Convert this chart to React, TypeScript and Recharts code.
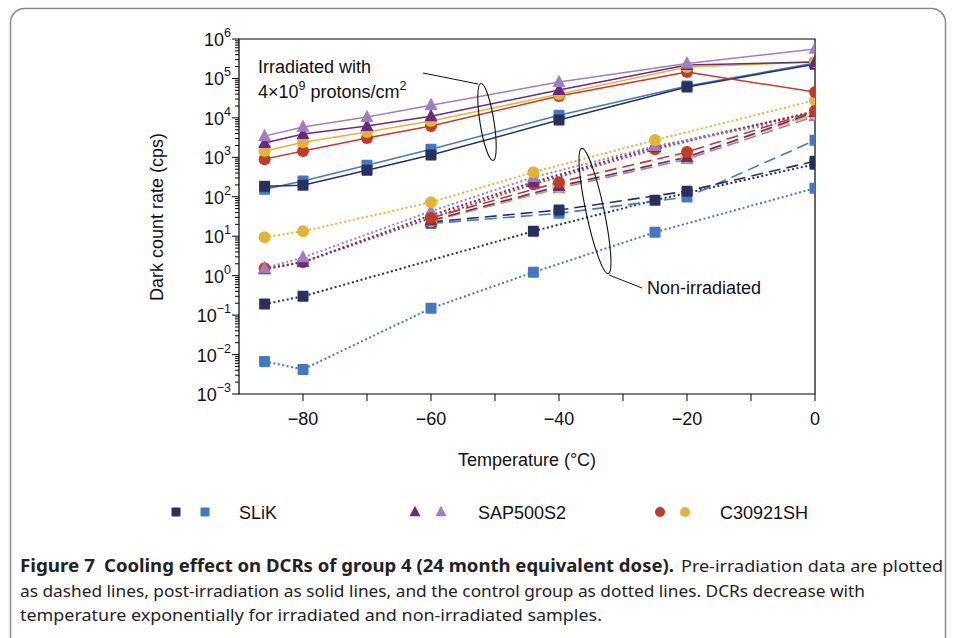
import React from 'react';
import { LineChart, Line, XAxis, YAxis, ReferenceArea } from 'recharts';

// temperatures (°C) at which each group was measured
const T_IRR = [-86, -80, -70, -60, -40, -20, 0];
const T_PRE = [-60, -40, -20, 0];
const T_CTRL = [-86, -80, -60, -44, -25, 0];

// post-irradiation (solid)
const SLIK_IRR_A = [185, 195, 470, 1140, 8800, 61000, 230000];
const SLIK_IRR_B = [155, 250, 630, 1600, 11700, 64000, 245000];
const SAP_IRR_A = [2300, 3900, 6200, 11000, 51000, 220000, 260000];
const SAP_IRR_B = [3450, 5900, 10500, 21000, 81000, 240000, 560000];
const C309_IRR_A = [900, 1440, 3100, 6200, 36000, 145000, 45000];
const C309_IRR_B = [1440, 2400, 4400, 8300, 40000, 195000, 260000];

// pre-irradiation (dashed)
const SLIK_PRE_A = [23, 46, 139, 800];
const SLIK_PRE_B = [21, 38, 98, 2700];
const SAP_PRE_A = [25, 186, 1010, 14000];
const SAP_PRE_B = [24, 165, 900, 11000];
const C309_PRE_A = [29, 235, 1360, 15000];
const C309_PRE_B = [24, 175, 1010, 12500];

// control group (dotted)
const SLIK_CTRL_A = [0.19, 0.3, null, 13.4, 82, 670];
const SLIK_CTRL_B = [0.0067, 0.0042, 0.149, 1.22, 12.6, 165];
const SAP_CTRL_A = [1.45, 2.2, 34, 235, 1820, 14000];
const SAP_CTRL_B = [1.54, 2.9, 43, 314, 1920, 11100];
const C309_CTRL_A = [1.54, 2.2, 29, 209, 1610, 14900];
const C309_CTRL_B = [9.4, 13.4, 73, 420, 2740, 28000];

const Y_EXPONENTS = [-3, -2, -1, 0, 1, 2, 3, 4, 5, 6];
const X_TICKS = [-80, -70, -60, -50, -40, -30, -20, -10, 0];
const X_LABELS = [-80, -60, -40, -20, 0];

const LEGEND = [
  { name: 'SLiK', shape: 'square' },
  { name: 'SAP500S2', shape: 'triangle' },
  { name: 'C30921SH', shape: 'circle' },
];

const NAVY = '#28305f';
const BLUE = '#4479c1';
const DPURPLE = '#6a2b7b';
const LPURPLE = '#a17dc0';
const RED = '#c13b2b';
const YELLOW = '#e3b437';

const FONT = '"Liberation Sans", Arial, sans-serif';

type Shape = 'square' | 'triangle' | 'circle';

function drawMarker(shape: Shape, color: string, cx: number, cy: number, s: number, key?: any) {
  if (shape === 'square') {
    return <rect key={key} x={cx - s / 2} y={cy - s / 2} width={s} height={s} fill={color} rx={1} />;
  }
  if (shape === 'triangle') {
    const h = s * 0.95;
    return (
      <polygon
        key={key}
        points={`${cx},${cy - h * 0.6} ${cx - s / 2},${cy + h * 0.4} ${cx + s / 2},${cy + h * 0.4}`}
        fill={color}
      />
    );
  }
  return <circle key={key} cx={cx} cy={cy} r={s / 2} fill={color} />;
}

const markerFor = (shape: Shape, color: string) => (p: any) => {
  const { cx, cy, index, payload } = p;
  if (cx == null || cy == null || payload == null || payload.v == null || Number.isNaN(cy)) {
    return <g key={`e-${index}`} />;
  }
  const size = shape === 'square' ? 11 : shape === 'triangle' ? 13 : 12;
  return drawMarker(shape, color, cx, cy, size, `m-${index}`);
};

const STYLES: Record<string, { dash?: string; width: number }> = {
  solid: { width: 1.5 },
  dashed: { dash: '12 6', width: 1.6 },
  dotted: { dash: '2 2.5', width: 2 },
};

const SERIES = [
  { id: 'sc-b', t: T_CTRL, v: SLIK_CTRL_B, color: BLUE, shape: 'square', style: 'dotted' },
  { id: 'sc-a', t: T_CTRL, v: SLIK_CTRL_A, color: NAVY, shape: 'square', style: 'dotted' },
  { id: 'cc-a', t: T_CTRL, v: C309_CTRL_A, color: RED, shape: 'circle', style: 'dotted' },
  { id: 'ac-a', t: T_CTRL, v: SAP_CTRL_A, color: DPURPLE, shape: 'triangle', style: 'dotted' },
  { id: 'ac-b', t: T_CTRL, v: SAP_CTRL_B, color: LPURPLE, shape: 'triangle', style: 'dotted' },
  { id: 'cc-b', t: T_CTRL, v: C309_CTRL_B, color: YELLOW, shape: 'circle', style: 'dotted' },
  { id: 'sp-b', t: T_PRE, v: SLIK_PRE_B, color: BLUE, shape: 'square', style: 'dashed' },
  { id: 'sp-a', t: T_PRE, v: SLIK_PRE_A, color: NAVY, shape: 'square', style: 'dashed' },
  { id: 'ap-b', t: T_PRE, v: SAP_PRE_B, color: LPURPLE, shape: 'triangle', style: 'dashed' },
  { id: 'cp-b', t: T_PRE, v: C309_PRE_B, color: YELLOW, shape: 'circle', style: 'dashed' },
  { id: 'ap-a', t: T_PRE, v: SAP_PRE_A, color: DPURPLE, shape: 'triangle', style: 'dashed' },
  { id: 'cp-a', t: T_PRE, v: C309_PRE_A, color: RED, shape: 'circle', style: 'dashed' },
  { id: 'si-b', t: T_IRR, v: SLIK_IRR_B, color: BLUE, shape: 'square', style: 'solid' },
  { id: 'si-a', t: T_IRR, v: SLIK_IRR_A, color: NAVY, shape: 'square', style: 'solid' },
  { id: 'ci-a', t: T_IRR, v: C309_IRR_A, color: RED, shape: 'circle', style: 'solid' },
  { id: 'ci-b', t: T_IRR, v: C309_IRR_B, color: YELLOW, shape: 'circle', style: 'solid' },
  { id: 'ai-a', t: T_IRR, v: SAP_IRR_A, color: DPURPLE, shape: 'triangle', style: 'solid' },
  { id: 'ai-b', t: T_IRR, v: SAP_IRR_B, color: LPURPLE, shape: 'triangle', style: 'solid' },
];

const MAJOR_Y = Y_EXPONENTS.map((e) => Math.pow(10, e));
const Y_TICKS = [
  ...MAJOR_Y,
  ...Y_EXPONENTS.slice(0, -1).flatMap((e) => [2, 3, 4, 5, 6, 7, 8, 9].map((m) => m * Math.pow(10, e))),
];

const YTick = (props: any) => {
  const { x, y, payload } = props;
  const v = payload.value;
  const e = Math.round(Math.log10(v));
  const major = Math.abs(v / Math.pow(10, e) - 1) < 1e-6;
  return (
    <g>
      <line x1={x - (major ? 7 : 4)} x2={x} y1={y} y2={y} stroke="#000" strokeWidth={1} />
      {major && (
        <text x={x - 8} y={y + 7} textAnchor="end" fontFamily={FONT} fontSize={18} fill="#111">
          10
          <tspan dy={-9} fontSize={12.5}>
            {e < 0 ? `\u2212${-e}` : `${e}`}
          </tspan>
        </text>
      )}
    </g>
  );
};

const XTick = (props: any) => {
  const { x, y, payload } = props;
  const v = payload.value;
  return (
    <g>
      <line x1={x} x2={x} y1={y} y2={y + 7} stroke="#000" strokeWidth={1} />
      {X_LABELS.includes(v) && (
        <text x={x} y={y + 31} textAnchor="middle" fontFamily={FONT} fontSize={18} fill="#111">
          {v < 0 ? `\u2212${-v}` : `${v}`}
        </text>
      )}
    </g>
  );
};

export default function App() {
  return (
    <div style={{ position: 'fixed', left: 0, top: 0, width: 955, height: 638, background: '#fff', overflow: 'hidden' }}>
      <div style={{ position: 'absolute', left: 0, top: 0 }}>
        <LineChart width={955} height={430} margin={{ top: 39, left: 238, right: 140, bottom: 35 }} style={{ overflow: 'visible' }}>
          <XAxis
            dataKey="t"
            type="number"
            domain={[-90, 0]}
            ticks={X_TICKS}
            interval={0}
            allowDataOverflow
            height={1}
            tickSize={0}
            tickMargin={0}
            axisLine={false}
            tickLine={false}
            tick={<XTick />}
          />
          <YAxis
            dataKey="v"
            scale="log"
            domain={[0.001, 1000000]}
            ticks={Y_TICKS}
            interval={0}
            allowDataOverflow
            width={1}
            tickSize={0}
            tickMargin={0}
            axisLine={false}
            tickLine={false}
            tick={<YTick />}
          />
          <ReferenceArea x1={-90} x2={0} y1={0.001} y2={1000000} fill="none" stroke="#000" strokeWidth={1.2} ifOverflow="visible" />
          {SERIES.map((s) => {
            const st = STYLES[s.style];
            return (
              <Line
                key={s.id}
                data={s.t.map((t, i) => ({ t, v: s.v[i] }))}
                dataKey="v"
                type="linear"
                stroke={s.color}
                strokeWidth={st.width}
                strokeDasharray={st.dash}
                dot={markerFor(s.shape as Shape, s.color)}
                activeDot={false}
                connectNulls
                isAnimationActive={false}
              />
            );
          })}
        </LineChart>
      </div>
      <svg width={955} height={638} style={{ position: 'absolute', left: 0, top: 0, pointerEvents: 'none' }}>
        <rect x={10.5} y={8.5} width={935} height={680} rx={14} fill="none" stroke="#8a8a8a" strokeWidth={1.5} />

        {/* axis titles */}
        <text x={527} y={466} textAnchor="middle" fontFamily={FONT} fontSize={18} fill="#111">
          Temperature (°C)
        </text>
        <text
          transform="translate(163,217) rotate(-90)"
          textAnchor="middle"
          fontFamily={FONT}
          fontSize={18}
          fill="#111"
        >
          Dark count rate (cps)
        </text>

        {/* annotations */}
        <text x={258} y={73} fontFamily={FONT} fontSize={18} fill="#111">Irradiated with</text>
        <text x={258} y={98} fontFamily={FONT} fontSize={18} fill="#111">
          4×10<tspan dy={-8} fontSize={12.5}>9</tspan>
          <tspan dy={8}> protons/cm</tspan>
          <tspan dy={-8} fontSize={12.5}>2</tspan>
        </text>
        <polyline points="423,73 478,84" fill="none" stroke="#111" strokeWidth={1} />
        <ellipse cx={487} cy={122} rx={7} ry={39} transform="rotate(-9 487 122)" fill="none" stroke="#111" strokeWidth={1.1} />

        <ellipse cx={595} cy={211} rx={9} ry={64} transform="rotate(-12 595 211)" fill="none" stroke="#111" strokeWidth={1.1} />
        <polyline points="609,275 642,288" fill="none" stroke="#111" strokeWidth={1} />
        <text x={647} y={294} fontFamily={FONT} fontSize={18} fill="#111">Non-irradiated</text>

        {/* legend */}
        {drawMarker('square', NAVY, 176, 512, 9)}
        {drawMarker('square', BLUE, 205, 512, 9)}
        {drawMarker('triangle', DPURPLE, 415, 512, 11)}
        {drawMarker('triangle', LPURPLE, 441, 512, 11)}
        {drawMarker('circle', RED, 660, 512, 10)}
        {drawMarker('circle', YELLOW, 685, 512, 10)}
        {LEGEND.map((l, i) => (
          <text key={l.name} x={[239, 478, 720][i]} y={519} fontFamily={FONT} fontSize={18} fill="#111">
            {l.name}
          </text>
        ))}

        {/* caption */}
        <g fontFamily='"Noto Sans", "Open Sans", sans-serif' fontSize={17} fill="#222">
          <text x={20} y={572} fontWeight="bold" textLength={75} lengthAdjust="spacingAndGlyphs">Figure 7</text>
          <text x={104} y={572} fontWeight="bold" textLength={570} lengthAdjust="spacingAndGlyphs">
            Cooling effect on DCRs of group 4 (24 month equivalent dose).
          </text>
          <text x={681} y={572} textLength={262} lengthAdjust="spacingAndGlyphs">Pre-irradiation data are plotted</text>
          <text x={20} y={597} textLength={845} lengthAdjust="spacingAndGlyphs">
            as dashed lines, post-irradiation as solid lines, and the control group as dotted lines. DCRs decrease with
          </text>
          <text x={20} y={621} textLength={582} lengthAdjust="spacingAndGlyphs">
            temperature exponentially for irradiated and non-irradiated samples.
          </text>
        </g>
      </svg>
    </div>
  );
}
